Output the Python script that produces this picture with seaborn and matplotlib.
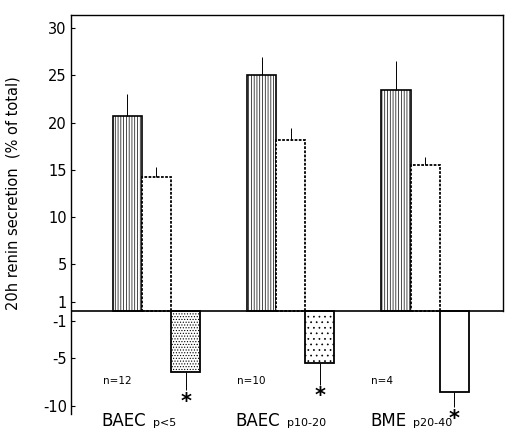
import pandas as pd
import matplotlib
matplotlib.use("Agg")
import matplotlib.pyplot as plt
import seaborn as sns

# values (% of total renin, 20h)
groups = ["BAEC p<5", "BAEC p10-20", "BME p20-40"]
cell_names = ["BAEC", "BAEC", "BME"]
passages = ["p<5", "p10-20", "p20-40"]
n_labels = ["n=12", "n=10", "n=4"]
conditions = ["A", "B", "C"]
mean_a = [20.7, 25.0, 23.4]
mean_b = [14.2, 18.2, 15.5]
mean_c = [-6.5, -5.5, -8.6]
err_a = [2.3, 1.9, 3.1]
err_b = [1.05, 1.2, 0.8]
err_c = [1.9, 2.3, 1.6]
yticks = [30, 25, 20, 15, 10, 5, 1, -1, -5, -10]

df = pd.DataFrame({
    "group": groups * 3,
    "condition": ["A"] * 3 + ["B"] * 3 + ["C"] * 3,
    "value": mean_a + mean_b + mean_c,
})

sns.set_style("white")
plt.rcParams["font.family"] = ["DejaVu Sans"]
plt.rcParams["text.color"] = "black"
plt.rcParams["ytick.color"] = "black"
plt.rcParams["axes.labelcolor"] = "black"
plt.rcParams["hatch.linewidth"] = 0.5

fig = plt.figure(figsize=(5.08, 4.34), dpi=100)
ax = fig.add_axes([0.1398, 0.0461, 0.8504, 0.9193])

sns.barplot(data=df, x="group", y="value", hue="condition", order=groups,
            hue_order=conditions, palette=["white"] * 3, width=0.65,
            errorbar=None, legend=False, edgecolor="black", linewidth=1.0,
            saturation=1, ax=ax)

# bar styles per condition
cont_a, cont_b, cont_c = ax.containers
for bar in cont_a:
    bar.set_hatch("||||||")
    bar.set_linewidth(1.2)
for bar in cont_b:
    bar.set_linestyle((0, (1.5, 0.8)))
    bar.set_linewidth(1.3)
c_hatches = ["......", "...", ""]
for bar, h in zip(cont_c, c_hatches):
    bar.set_hatch(h)
    bar.set_linewidth(1.3)

# one-sided error bars without caps, star under the negative ones
for cont, errs in zip(ax.containers, [err_a, err_b, err_c]):
    for bar, e in zip(cont, errs):
        x = bar.get_x() + bar.get_width() / 2
        val = bar.get_y() + bar.get_height()
        if val > 0:
            ax.errorbar([x], [val], yerr=[[0], [e]], fmt="none", ecolor="black",
                        elinewidth=0.7, capsize=0)
        else:
            ax.errorbar([x], [val], yerr=[[e], [0]], fmt="none", ecolor="black",
                        elinewidth=0.7, capsize=0)
            ax.annotate("*", xy=(x, val - e), xytext=(0, -8),
                        textcoords="offset points", ha="center", va="center",
                        fontsize=15, fontweight="bold", annotation_clip=False)

ax.axhline(0, color="black", lw=1.2, zorder=5)

ax.set_xlim(-0.636, 2.58)
ax.set_ylim(-10.9, 31.4)
ax.set_yticks(yticks)
ax.set_yticklabels([str(t) for t in yticks], fontsize=10.5)
ax.tick_params(axis="y", direction="in", length=3, width=0.8, pad=3,
               left=True, right=False)
ax.set_xticks([])
ax.set_xlabel("")
ax.set_ylabel("20h renin secretion  (% of total)", fontsize=10.5)
ax.yaxis.set_label_coords(-0.118, 0.554)

for side in ["left", "top", "right"]:
    ax.spines[side].set_color("black")
    ax.spines[side].set_linewidth(1.0)
ax.spines["bottom"].set_visible(False)
ax.spines["right"].set_bounds(0, 31.4)

# group labels and n counts
for i, (cell, pas, n) in enumerate(zip(cell_names, passages, n_labels)):
    ax.text(i - 0.40, -7.4, n, fontsize=7.5, ha="left", va="center")
    big = ax.text(i - 0.41, -11.65, cell, fontsize=12, ha="left", va="center",
                  clip_on=False)
    ax.annotate(pas, xy=(1, 0.1), xycoords=big, xytext=(5, 0),
                textcoords="offset points", fontsize=8, ha="left", va="bottom")

fig.savefig("out.png", dpi=100)
